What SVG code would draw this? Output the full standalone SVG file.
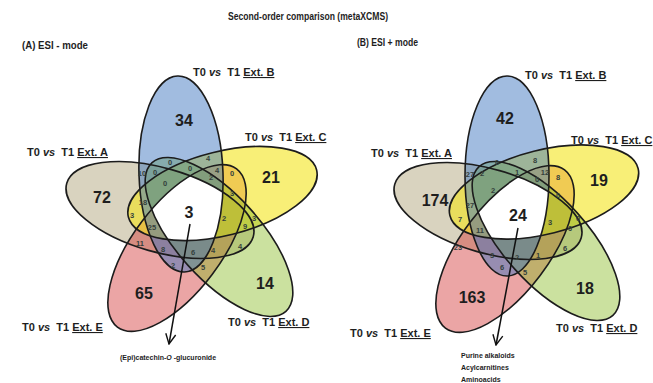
<svg xmlns="http://www.w3.org/2000/svg" width="653" height="383" viewBox="0 0 653 383">
<style>
  text{font-family:"Liberation Sans",Arial,sans-serif;font-weight:bold;fill:#1e1e1e}
  .fA{fill:#b0a47a;fill-opacity:.48}
  .fB{fill:#3a74bf;fill-opacity:.48}
  .fC{fill:#f4e41c;fill-opacity:.6}
  .fD{fill:#8cbc2a;fill-opacity:.45}
  .fE{fill:#d23838;fill-opacity:.45}
  .ol{fill:none;stroke:#1c1c1c;stroke-width:1.6}
  .big{font-size:16px;text-anchor:middle}
  .sm{font-size:7.5px;text-anchor:middle;fill:#34403c}
  .lab{font-size:11px;white-space:pre}
  .it{font-style:italic}
  .ul{text-decoration:underline}
  .hd{font-size:10px}
  .note{font-size:7px}
  .arrow{fill:none;stroke:#111;stroke-width:1.5}
</style>
<defs>
  <marker id="chev" viewBox="0 0 12 12" refX="11" refY="6" markerWidth="12" markerHeight="12" markerUnits="userSpaceOnUse" orient="auto">
    <path d="M1,1 L11,6 L1,11" fill="none" stroke="#111" stroke-width="1.4"/>
  </marker>
  <!-- left diagram ellipses -->
  <ellipse id="lA" cx="160" cy="210" rx="97" ry="42" transform="rotate(16 160 210)"/>
  <ellipse id="lB" cx="181" cy="174" rx="98" ry="42" transform="rotate(-92 181 174)"/>
  <ellipse id="lC" cx="222.5" cy="193.5" rx="97" ry="42" transform="rotate(-14 222.5 193.5)"/>
  <ellipse id="lD" cx="219" cy="237" rx="100" ry="42" transform="rotate(48 219 237)"/>
  <ellipse id="lE" cx="177" cy="248" rx="99" ry="44" transform="rotate(127 177 248)"/>
  <!-- right diagram ellipses -->
  <ellipse id="rA" cx="488" cy="211" rx="97" ry="42" transform="rotate(16 488 211)"/>
  <ellipse id="rB" cx="507" cy="176" rx="100" ry="42" transform="rotate(-90 507 176)"/>
  <ellipse id="rC" cx="544" cy="192" rx="97" ry="42" transform="rotate(-14 544 192)"/>
  <ellipse id="rD" cx="546" cy="241" rx="100" ry="42" transform="rotate(48 546 241)"/>
  <ellipse id="rE" cx="505" cy="249" rx="99" ry="44" transform="rotate(127 505 249)"/>
  <clipPath id="clA"><use href="#lA"/></clipPath>
  <clipPath id="clB"><use href="#lB"/></clipPath>
  <clipPath id="clC"><use href="#lC"/></clipPath>
  <clipPath id="clD"><use href="#lD"/></clipPath>
  <clipPath id="crA"><use href="#rA"/></clipPath>
  <clipPath id="crB"><use href="#rB"/></clipPath>
  <clipPath id="crC"><use href="#rC"/></clipPath>
  <clipPath id="crD"><use href="#rD"/></clipPath>
</defs>

<rect width="653" height="383" fill="#fff"/>

<!-- headings -->
<g id="headings">
  <text class="hd" x="228" y="20" textLength="160" lengthAdjust="spacingAndGlyphs">Second-order comparison (metaXCMS)</text>
  <text class="hd" x="22" y="49" textLength="66" lengthAdjust="spacingAndGlyphs">(A) ESI - mode</text>
  <text class="hd" x="357" y="46" textLength="61" lengthAdjust="spacingAndGlyphs">(B) ESI + mode</text>
</g>

<!-- (A) ESI - mode -->
<g id="venn-neg">
  <g id="fills-neg">
    <use href="#lA" class="fA"/>
    <use href="#lE" class="fE"/>
    <use href="#lC" class="fC"/>
    <use href="#lD" class="fD"/>
    <use href="#lB" class="fB"/>
    <!-- five-way intersection -->
    <g clip-path="url(#clA)"><g clip-path="url(#clB)"><g clip-path="url(#clC)"><g clip-path="url(#clD)">
      <use href="#lE" fill="#fff"/>
    </g></g></g></g>
  </g>
  <g id="neg-setA"><use href="#lA" class="ol"/><text class="big" x="102" y="203">72</text>
    <text class="lab" x="27" y="156">T0 <tspan class="it">vs</tspan>  T1 <tspan class="ul">Ext. A</tspan></text></g>
  <g id="neg-setB"><use href="#lB" class="ol"/><text class="big" x="184" y="126">34</text>
    <text class="lab" x="193" y="76">T0 <tspan class="it">vs</tspan>  T1 <tspan class="ul">Ext. B</tspan></text></g>
  <g id="neg-setC"><use href="#lC" class="ol"/><text class="big" x="271" y="183">21</text>
    <text class="lab" x="245" y="141">T0 <tspan class="it">vs</tspan>  T1 <tspan class="ul">Ext. C</tspan></text></g>
  <g id="neg-setD"><use href="#lD" class="ol"/><text class="big" x="265" y="289">14</text>
    <text class="lab" x="228" y="326">T0 <tspan class="it">vs</tspan>  T1 <tspan class="ul">Ext. D</tspan></text></g>
  <g id="neg-setE"><use href="#lE" class="ol"/><text class="big" x="144" y="299">65</text>
    <text class="lab" x="22" y="331">T0 <tspan class="it">vs</tspan>  T1 <tspan class="ul">Ext. E</tspan></text></g>
  <g id="neg-core"><text class="big" x="189" y="218">3</text></g>
  <g id="neg-regions">
    <text class="sm" x="142" y="176">10</text>
    <text class="sm" x="155" y="175">0</text>
    <text class="sm" x="170" y="165">0</text>
    <text class="sm" x="190" y="171">0</text>
    <text class="sm" x="208" y="161">4</text>
    <text class="sm" x="217" y="173">4</text>
    <text class="sm" x="211" y="180">2</text>
    <text class="sm" x="165" y="186">0</text>
    <text class="sm" x="232" y="176">0</text>
    <text class="sm" x="143" y="205">18</text>
    <text class="sm" x="132" y="218">3</text>
    <text class="sm" x="152" y="230">25</text>
    <text class="sm" x="140" y="246">11</text>
    <text class="sm" x="163" y="252">8</text>
    <text class="sm" x="193" y="255">6</text>
    <text class="sm" x="173" y="268">2</text>
    <text class="sm" x="203" y="270">5</text>
    <text class="sm" x="224" y="221">2</text>
    <text class="sm" x="245" y="229">9</text>
    <text class="sm" x="254" y="221">3</text>
    <text class="sm" x="232" y="196">3</text>
    <text class="sm" x="213" y="253">4</text>
    <text class="sm" x="240" y="249">4</text>
  </g>
</g>

<!-- (B) ESI + mode -->
<g id="venn-pos">
  <g id="fills-pos">
    <use href="#rA" class="fA"/>
    <use href="#rE" class="fE"/>
    <use href="#rC" class="fC"/>
    <use href="#rD" class="fD"/>
    <use href="#rB" class="fB"/>
    <g clip-path="url(#crA)"><g clip-path="url(#crB)"><g clip-path="url(#crC)"><g clip-path="url(#crD)">
      <use href="#rE" fill="#fff"/>
    </g></g></g></g>
  </g>
  <g id="pos-setA"><use href="#rA" class="ol"/><text class="big" x="435" y="206">174</text>
    <text class="lab" x="371" y="157">T0 <tspan class="it">vs</tspan>  T1 <tspan class="ul">Ext. A</tspan></text></g>
  <g id="pos-setB"><use href="#rB" class="ol"/><text class="big" x="505" y="124">42</text>
    <text class="lab" x="525" y="79">T0 <tspan class="it">vs</tspan>  T1 <tspan class="ul">Ext. B</tspan></text></g>
  <g id="pos-setC"><use href="#rC" class="ol"/><text class="big" x="599" y="186">19</text>
    <text class="lab" x="571" y="144">T0 <tspan class="it">vs</tspan>  T1 <tspan class="ul">Ext. C</tspan></text></g>
  <g id="pos-setD"><use href="#rD" class="ol"/><text class="big" x="585" y="294">18</text>
    <text class="lab" x="556" y="332">T0 <tspan class="it">vs</tspan>  T1 <tspan class="ul">Ext. D</tspan></text></g>
  <g id="pos-setE"><use href="#rE" class="ol"/><text class="big" x="472" y="303">163</text>
    <text class="lab" x="350" y="337">T0 <tspan class="it">vs</tspan>  T1 <tspan class="ul">Ext. E</tspan></text></g>
  <g id="pos-core"><text class="big" x="518" y="221">24</text></g>
  <g id="pos-regions">
    <text class="sm" x="470" y="177">27</text>
    <text class="sm" x="482" y="176">2</text>
    <text class="sm" x="497" y="165">0</text>
    <text class="sm" x="517" y="175">1</text>
    <text class="sm" x="535" y="163">8</text>
    <text class="sm" x="545" y="175">12</text>
    <text class="sm" x="537" y="182">0</text>
    <text class="sm" x="558" y="180">8</text>
    <text class="sm" x="493" y="193">2</text>
    <text class="sm" x="558" y="198">0</text>
    <text class="sm" x="470" y="208">27</text>
    <text class="sm" x="460" y="222">7</text>
    <text class="sm" x="480" y="233">11</text>
    <text class="sm" x="458" y="250">23</text>
    <text class="sm" x="492" y="258">3</text>
    <text class="sm" x="517" y="260">2</text>
    <text class="sm" x="538" y="258">1</text>
    <text class="sm" x="565" y="251">6</text>
    <text class="sm" x="550" y="225">3</text>
    <text class="sm" x="578" y="221">0</text>
    <text class="sm" x="570" y="231">0</text>
    <text class="sm" x="502" y="270">6</text>
    <text class="sm" x="525" y="275">5</text>
  </g>
</g>

<!-- annotation arrows -->
<g id="connectors">
  <line class="arrow" x1="190" y1="224" x2="169" y2="344" marker-end="url(#chev)"/>
  <line class="arrow" x1="518" y1="228" x2="496" y2="345" marker-end="url(#chev)"/>
</g>

<g id="annotations">
  <text class="note" x="168" y="360" text-anchor="middle">(Epi)catechin-<tspan class="it">O</tspan> -glucuronide</text>
  <text class="note" x="461" y="358">Purine alkaloids</text>
  <text class="note" x="461" y="370">Acylcarnitines</text>
  <text class="note" x="461" y="382">Aminoacids</text>
</g>
</svg>
